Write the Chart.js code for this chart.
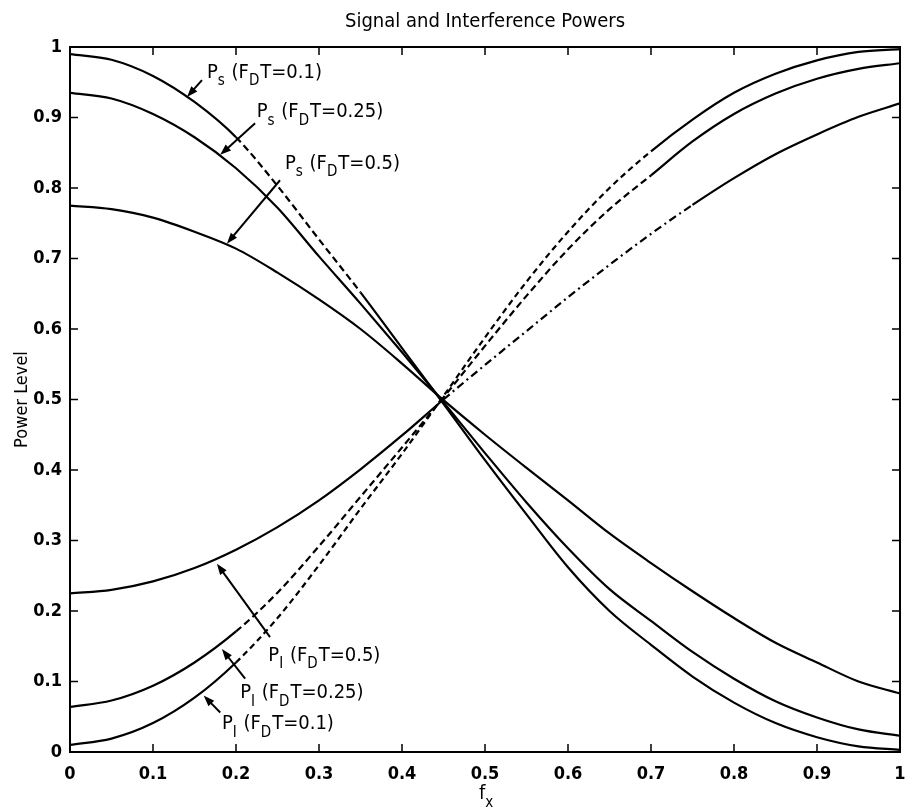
<!DOCTYPE html>
<html>
<head>
<meta charset="utf-8">
<script src="https://cdn.jsdelivr.net/npm/chart.js@4.4.1/dist/chart.umd.min.js"></script>
<style>
  html, body { margin: 0; padding: 0; background: #fff; }
  #wrap { width: 909px; height: 812px; }
</style>
</head>
<body>
<div id="wrap"><canvas id="chart" width="909" height="812"></canvas></div>
<script>
// normalised frequency f_x
const fx = [0, 0.05, 0.1, 0.15, 0.2, 0.25, 0.3, 0.35, 0.4, 0.45, 0.5,
            0.55, 0.6, 0.65, 0.7, 0.75, 0.8, 0.85, 0.9, 0.95, 1];

// signal power P_s
const psFdt01  = [0.99, 0.982, 0.959, 0.922, 0.872, 0.803, 0.727, 0.652, 0.573, 0.494, 0.414,
                  0.337, 0.262, 0.2, 0.152, 0.107, 0.07, 0.041, 0.021, 0.008, 0.003];
const psFdt025 = [0.935, 0.927, 0.905, 0.872, 0.828, 0.772, 0.703, 0.636, 0.567, 0.496, 0.424,
                  0.354, 0.289, 0.231, 0.186, 0.142, 0.104, 0.072, 0.049, 0.032, 0.023];
const psFdt05  = [0.775, 0.77, 0.758, 0.738, 0.714, 0.68, 0.642, 0.6, 0.551, 0.499, 0.45,
                  0.403, 0.357, 0.31, 0.268, 0.228, 0.19, 0.155, 0.127, 0.1, 0.083];

// interference power P_I
const piFdt01  = [0.01, 0.019, 0.041, 0.077, 0.127, 0.19, 0.265, 0.345, 0.423, 0.505, 0.588,
                  0.667, 0.738, 0.8, 0.852, 0.897, 0.935, 0.962, 0.981, 0.993, 0.997];
const piFdt025 = [0.064, 0.073, 0.094, 0.127, 0.171, 0.226, 0.292, 0.362, 0.432, 0.503, 0.576,
                  0.647, 0.713, 0.77, 0.818, 0.866, 0.905, 0.934, 0.955, 0.969, 0.977];
const piFdt05  = [0.225, 0.23, 0.242, 0.261, 0.287, 0.319, 0.357, 0.401, 0.449, 0.5, 0.549,
                  0.597, 0.645, 0.691, 0.735, 0.776, 0.814, 0.848, 0.876, 0.901, 0.92];

const FONT = '"DejaVu Sans Condensed", "DejaVu Sans", sans-serif';

// which stretch of each curve is drawn broken in the original
function curve(label, ys, dashFrom, dashTo, dash) {
  return {
    label: label,
    data: fx.map((x, i) => ({ x: x, y: ys[i] })),
    borderColor: "#000",
    borderWidth: 2.2,
    pointRadius: 0,
    fill: false,
    cubicInterpolationMode: "monotone",
    segment: {
      borderDash: ctx => {
        const x0 = ctx.p0.parsed.x;
        return (x0 >= dashFrom && x0 < dashTo) ? dash : undefined;
      }
    }
  };
}

// text labels with arrows, in data coordinates
const notes = [
  { parts: [["P"], ["s", 1], [" (F"], ["D", 1], ["T=0.1)"]],  at: [0.165, 0.964], from: [0.159, 0.953], to: [0.141, 0.929] },
  { parts: [["P"], ["s", 1], [" (F"], ["D", 1], ["T=0.25)"]], at: [0.225, 0.908], from: [0.223, 0.892], to: [0.181, 0.847] },
  { parts: [["P"], ["s", 1], [" (F"], ["D", 1], ["T=0.5)"]],  at: [0.259, 0.835], from: [0.253, 0.811], to: [0.189, 0.721] },
  { parts: [["P"], ["I", 1], [" (F"], ["D", 1], ["T=0.5)"]],  at: [0.239, 0.137], from: [0.241, 0.163], to: [0.177, 0.267] },
  { parts: [["P"], ["I", 1], [" (F"], ["D", 1], ["T=0.25)"]], at: [0.205, 0.084], from: [0.211, 0.104], to: [0.183, 0.146] },
  { parts: [["P"], ["I", 1], [" (F"], ["D", 1], ["T=0.1)"]],  at: [0.183, 0.040], from: [0.181, 0.056], to: [0.161, 0.080] }
];

function drawRich(ctx, parts, x, y) {
  parts.forEach(p => {
    const sub = p[1];
    ctx.font = sub ? "15px " + FONT : "20px " + FONT;
    ctx.fillText(p[0], x, sub ? y + 9 : y);
    x += ctx.measureText(p[0]).width + (sub ? 1 : 0);
  });
}

function arrow(ctx, x1, y1, x2, y2) {
  const a = Math.atan2(y2 - y1, x2 - x1);
  const len = 11, w = 4;
  ctx.beginPath();
  ctx.moveTo(x1, y1);
  ctx.lineTo(x2 - Math.cos(a) * len * 0.8, y2 - Math.sin(a) * len * 0.8);
  ctx.stroke();
  ctx.beginPath();
  ctx.moveTo(x2, y2);
  ctx.lineTo(x2 - Math.cos(a) * len - Math.sin(a) * w, y2 - Math.sin(a) * len + Math.cos(a) * w);
  ctx.lineTo(x2 - Math.cos(a) * len + Math.sin(a) * w, y2 - Math.sin(a) * len - Math.cos(a) * w);
  ctx.closePath();
  ctx.fill();
}

const framePlugin = {
  id: "frame",
  afterDraw(chart) {
    const ctx = chart.ctx;
    const a = chart.chartArea;
    const xs = chart.scales.x, ys = chart.scales.y;
    ctx.save();
    ctx.strokeStyle = "#000";
    ctx.fillStyle = "#000";
    ctx.lineWidth = 2;
    ctx.strokeRect(a.left, a.top, a.right - a.left, a.bottom - a.top);
    ctx.lineWidth = 1.5;
    const tl = 8;
    xs.ticks.forEach(t => {
      const px = xs.getPixelForValue(t.value);
      ctx.beginPath();
      ctx.moveTo(px, a.bottom); ctx.lineTo(px, a.bottom - tl);
      ctx.moveTo(px, a.top); ctx.lineTo(px, a.top + tl);
      ctx.stroke();
    });
    ys.ticks.forEach(t => {
      const py = ys.getPixelForValue(t.value);
      ctx.beginPath();
      ctx.moveTo(a.left, py); ctx.lineTo(a.left + tl, py);
      ctx.moveTo(a.right, py); ctx.lineTo(a.right - tl, py);
      ctx.stroke();
    });

    // title, centred over the plot box
    ctx.textBaseline = "middle";
    ctx.textAlign = "center";
    ctx.font = "20px " + FONT;
    ctx.fillText("Signal and Interference Powers", (a.left + a.right) / 2, 22);

    // annotations
    ctx.lineWidth = 2;
    ctx.textAlign = "left";
    notes.forEach(n => {
      arrow(ctx,
        xs.getPixelForValue(n.from[0]), ys.getPixelForValue(n.from[1]),
        xs.getPixelForValue(n.to[0]), ys.getPixelForValue(n.to[1]));
      drawRich(ctx, n.parts, xs.getPixelForValue(n.at[0]), ys.getPixelForValue(n.at[1]));
    });

    // x axis title f_x
    const cx = (a.left + a.right) / 2 - 6;
    drawRich(ctx, [["f"], ["x", 1]], cx, 794);
    ctx.restore();
  }
};

const tickFmt = v => String(Number(Number(v).toFixed(1)));

new Chart(document.getElementById("chart"), {
  type: "line",
  data: {
    datasets: [
      curve("Ps (FDT=0.1)",  psFdt01,  0.2, 0.35, [7, 4]),
      curve("Ps (FDT=0.25)", psFdt025, 0, 0, []),
      curve("Ps (FDT=0.5)",  psFdt05,  0, 0, []),
      curve("PI (FDT=0.1)",  piFdt01,  0.2, 0.7, [6, 4]),
      curve("PI (FDT=0.25)", piFdt025, 0.2, 0.7, [7, 4]),
      curve("PI (FDT=0.5)",  piFdt05,  0.45, 0.72, [8, 4, 2, 4])
    ]
  },
  options: {
    responsive: false,
    animation: false,
    layout: { padding: { top: 47, left: 4, right: 9, bottom: 0 } },
    plugins: {
      legend: { display: false },
      tooltip: { enabled: false },
      title: { display: false }
    },
    scales: {
      x: {
        type: "linear",
        min: 0, max: 1,
        grid: { display: false, drawTicks: false },
        border: { display: false },
        ticks: {
          stepSize: 0.1, color: "#000", padding: 12, maxRotation: 0,
          font: { family: FONT, size: 18, weight: "bold" },
          callback: tickFmt
        },
        afterFit: s => { s.height = 60; s.paddingLeft = 0; s.paddingRight = 0; }
      },
      y: {
        type: "linear",
        min: 0, max: 1,
        grid: { display: false, drawTicks: false },
        border: { display: false },
        ticks: {
          stepSize: 0.1, color: "#000", padding: 8,
          font: { family: FONT, size: 18, weight: "bold" },
          callback: tickFmt
        },
        title: {
          display: true, text: "Power Level", color: "#000",
          font: { family: FONT, size: 18, weight: "normal" },
          padding: { top: 8, bottom: 0 }
        },
        afterFit: s => { s.width = 66; s.paddingTop = 0; s.paddingBottom = 0; }
      }
    }
  },
  plugins: [framePlugin]
});
</script>
</body>
</html>
